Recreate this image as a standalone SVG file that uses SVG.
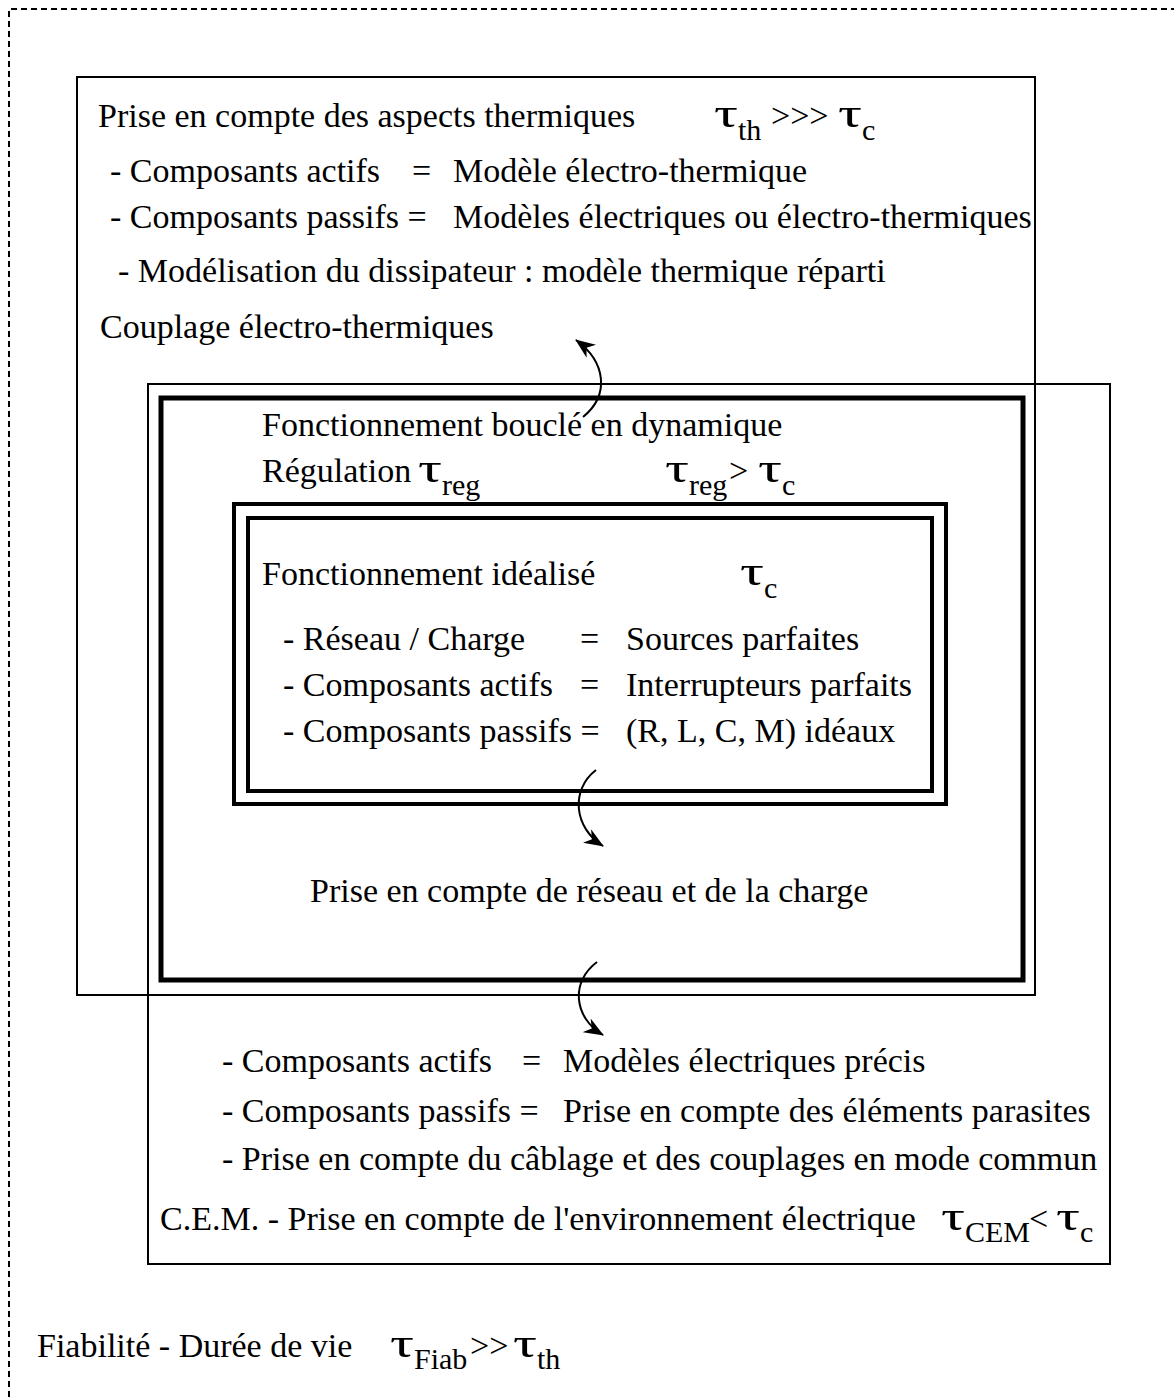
<svg xmlns="http://www.w3.org/2000/svg" width="1174" height="1397" viewBox="0 0 1174 1397">
<style>
text{font-family:"Liberation Serif","Times New Roman",serif;font-size:34px;fill:#000}
.t{font-size:42px}
.s{font-size:30px}
.thin{fill:none;stroke:#000;stroke-width:2}
.thick{fill:none;stroke:#000;stroke-width:5}
.dbl{fill:none;stroke:#000;stroke-width:4}
.arr{fill:none;stroke:#000;stroke-width:2}
</style>
<defs>
<marker id="ah" markerWidth="20" markerHeight="16" refX="19" refY="8" orient="auto" markerUnits="userSpaceOnUse" viewBox="0 0 20 16">
<path d="M0,0 L20,8 L0,16 L6,8 z" fill="#000"/>
</marker>
</defs>
<rect width="1174" height="1397" fill="#fff"/>
<g id="outer-dashed">
<path d="M9,1397 V9 H1174" fill="none" stroke="#000" stroke-width="2" stroke-dasharray="6,4"/>
<text x="37" y="1357">Fiabilité - Durée de vie</text>
<text class="t" transform="translate(390,1357) scale(1.42,1)">τ</text>
<text class="s" x="414" y="1369">Fiab</text>
<text x="470" y="1357">&gt;&gt;</text>
<text class="t" transform="translate(513,1357) scale(1.42,1)">τ</text>
<text class="s" x="537" y="1369">th</text>
</g>
<g id="thermal">
<rect class="thin" x="77" y="77" width="958" height="918"/>
<text x="98" y="127">Prise en compte des aspects thermiques</text>
<text class="t" transform="translate(714,127) scale(1.42,1)">τ</text>
<text class="s" x="738" y="140">th</text>
<text x="771" y="127">&gt;&gt;&gt;</text>
<text class="t" transform="translate(838,127) scale(1.42,1)">τ</text>
<text class="s" x="862" y="140">c</text>
<text x="110" y="182">- Composants actifs</text>
<text x="412" y="182">=</text>
<text x="453" y="182">Modèle électro-thermique</text>
<text x="110" y="228">- Composants passifs =</text>
<text x="453" y="228">Modèles électriques ou électro-thermiques</text>
<text x="118" y="282">- Modélisation du dissipateur : modèle thermique réparti</text>
<text x="100" y="338">Couplage électro-thermiques</text>
</g>
<g id="cem">
<rect class="thin" x="148" y="384" width="962" height="880"/>
<text x="222" y="1072">- Composants actifs</text>
<text x="522" y="1072">=</text>
<text x="563" y="1072">Modèles électriques précis</text>
<text x="222" y="1122">- Composants passifs =</text>
<text x="563" y="1122">Prise en compte des éléments parasites</text>
<text x="222" y="1170">- Prise en compte du câblage et des couplages en mode commun</text>
<text x="160" y="1230">C.E.M. - Prise en compte de l'environnement électrique</text>
<text class="t" transform="translate(941,1230) scale(1.42,1)">τ</text>
<text class="s" x="965" y="1242">CEM</text>
<text x="1029" y="1230">&lt;</text>
<text class="t" transform="translate(1056,1230) scale(1.42,1)">τ</text>
<text class="s" x="1080" y="1242">c</text>
</g>
<g id="regulation">
<rect class="thick" x="161" y="398" width="862" height="582"/>
<text x="262" y="436">Fonctionnement bouclé en dynamique</text>
<text x="262" y="482">Régulation</text>
<text class="t" transform="translate(418,482) scale(1.42,1)">τ</text>
<text class="s" x="442" y="495">reg</text>
<text class="t" transform="translate(665,482) scale(1.42,1)">τ</text>
<text class="s" x="689" y="495">reg</text>
<text x="729" y="482">&gt;</text>
<text class="t" transform="translate(758,482) scale(1.42,1)">τ</text>
<text class="s" x="782" y="495">c</text>
<text x="310" y="902">Prise en compte de réseau et de la charge</text>
</g>
<g id="ideal">
<rect class="dbl" x="234" y="504" width="712" height="300"/>
<rect class="dbl" x="248" y="518" width="684" height="273"/>
<text x="262" y="585">Fonctionnement idéalisé</text>
<text class="t" transform="translate(740,585) scale(1.42,1)">τ</text>
<text class="s" x="764" y="598">c</text>
<text x="283" y="650">- Réseau / Charge</text>
<text x="580" y="650">=</text>
<text x="626" y="650">Sources parfaites</text>
<text x="283" y="696">- Composants actifs</text>
<text x="580" y="696">=</text>
<text x="626" y="696">Interrupteurs parfaits</text>
<text x="283" y="742">- Composants passifs =</text>
<text x="626" y="742">(R, L, C, M) idéaux</text>
</g>
<g id="connectors">
<path class="arr" d="M583,417 C610,395 606,362 576,340" marker-end="url(#ah)"/>
<path class="arr" d="M596,770 C570,790 574,828 603,846" marker-end="url(#ah)"/>
<path class="arr" d="M597,962 C570,982 574,1018 603,1035" marker-end="url(#ah)"/>
</g>
</svg>
